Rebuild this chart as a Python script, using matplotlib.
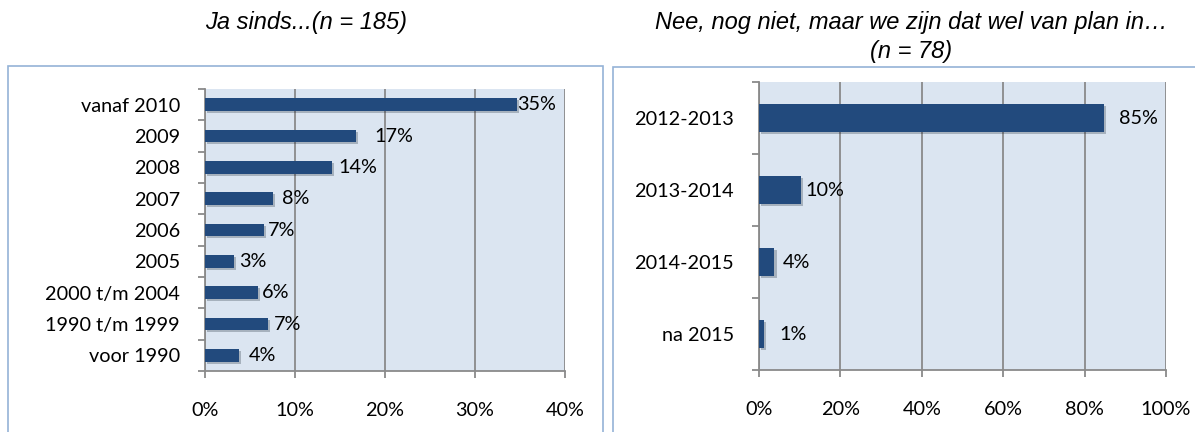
import matplotlib
matplotlib.use("Agg")
import matplotlib.pyplot as plt
from matplotlib.patches import Rectangle
from matplotlib.ticker import FixedLocator
import matplotlib.patheffects as pe

# ---- data ----
left_title = "Ja sinds...(n = 185)"
left_categories = ["vanaf 2010", "2009", "2008", "2007", "2006", "2005",
                   "2000 t/m 2004", "1990 t/m 1999", "voor 1990"]
left_values = [34.7, 16.8, 14.1, 7.6, 6.5, 3.2, 5.9, 7.0, 3.8]
left_labels = ["35%", "17%", "14%", "8%", "7%", "3%", "6%", "7%", "4%"]
left_ticks = [0, 10, 20, 30, 40]

right_title = "Nee, nog niet, maar we zijn dat wel van plan in\u2026\n(n = 78)"
right_categories = ["2012-2013", "2013-2014", "2014-2015", "na 2015"]
right_values = [84.8, 10.3, 3.8, 1.2]
right_labels = ["85%", "10%", "4%", "1%"]
right_ticks = [0, 20, 40, 60, 80, 100]

BAR = "#224a7d"
BG = "#dbe5f1"
GRID = "#8a8a8a"
FRAME = "#95b3d7"
FONT = "Lato"
FS = 14.3

W, H = 1195, 432
fig = plt.figure(figsize=(W / 100, H / 100), dpi=100)


def fx(x):
    return x / W


def fy(y):
    return 1 - y / H


# frames
fig.patches.append(Rectangle((fx(8), fy(440)), fx(595), (440 - 66) / H,
                             transform=fig.transFigure, fill=False,
                             edgecolor=FRAME, linewidth=1.2))
fig.patches.append(Rectangle((fx(613), fy(440)), fx(600), (440 - 67) / H,
                             transform=fig.transFigure, fill=False,
                             edgecolor=FRAME, linewidth=1.2))


def panel(rect, cats, vals, labs, ticks, offsets):
    ax = fig.add_axes(rect)
    n = len(cats)
    ys = list(range(n))[::-1]
    ax.set_facecolor(BG)
    for t in ticks:
        ax.axvline(t, color=GRID, linewidth=1.3, zorder=1)
    bars = ax.barh(ys, vals, height=0.4, color=BAR, zorder=3)
    for b in bars:
        b.set_path_effects([pe.SimplePatchShadow(offset=(1.5, -1.5),
                                                 alpha=0.25),
                            pe.Normal()])
    for y, v, l, o in zip(ys, vals, labs, offsets):
        ax.annotate(l, (v, y), xytext=(o, 0), textcoords="offset points",
                    va="center", ha="left", fontsize=FS, family=FONT,
                    color="black", zorder=4)
    ax.set_xlim(ticks[0], ticks[-1])
    ax.set_ylim(-0.5, n - 0.5)
    ax.set_xticks(ticks)
    ax.set_xticklabels([f"{t}%" for t in ticks], fontsize=FS, family=FONT)
    ax.set_yticks(ys)
    ax.set_yticklabels(cats, fontsize=FS, family=FONT)
    ax.yaxis.set_minor_locator(FixedLocator([i - 0.5 for i in range(n + 1)]))
    ax.tick_params(axis="y", which="major", length=0, pad=18)
    ax.tick_params(axis="y", which="minor", length=5, color=GRID, width=1.3)
    ax.tick_params(axis="x", which="major", length=5, color=GRID, width=1.3,
                   pad=17)
    for s in ["top", "right"]:
        ax.spines[s].set_visible(False)
    for s in ["left", "bottom"]:
        ax.spines[s].set_color(GRID)
        ax.spines[s].set_linewidth(1.3)
    return ax


panel([fx(205), fy(371), fx(360), (371 - 89) / H],
      left_categories, left_values, left_labels, left_ticks,
      [0, 13, 5, 6.5, 3.5, 3.5, 3, 4.3, 7])
panel([fx(759), fy(370), fx(407), (370 - 82) / H],
      right_categories, right_values, right_labels, right_ticks,
      [11, 3.5, 6, 11.5])

fig.text(fx(306), fy(22), left_title, ha="center", va="center",
         fontsize=17, style="italic", family="Liberation Sans")
fig.text(fx(911), fy(37), right_title, ha="center", va="center",
         fontsize=17, style="italic", family="Liberation Sans",
         linespacing=1.35)

fig.savefig("out.png", dpi=100)
